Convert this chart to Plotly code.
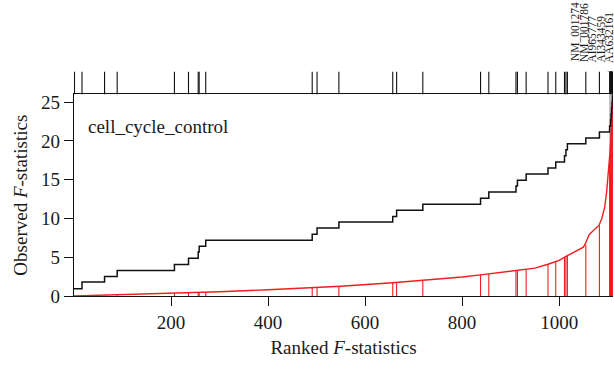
import plotly.graph_objects as go

# ---------------- data ----------------
# ranks (x) of the gene-set members
member_ranks = [1, 16.5, 63, 89, 207, 236, 256, 258, 271.5, 491, 501, 546,
                657, 665, 719, 838, 855, 911, 914, 932, 977, 993, 1011, 1014,
                1017, 1055, 1083, 1104, 1106, 1107, 1108, 1109, 1110, 1111]
# observed (black step) value after each member
observed_steps = [0.94, 1.79, 2.52, 3.29, 4.06, 4.87, 5.68, 6.40, 7.18, 7.95,
                  8.76, 9.53, 10.26, 11.06, 11.83, 12.60, 13.42, 14.19, 14.92,
                  15.73, 16.50, 17.27, 18.08, 18.85, 19.62, 20.38, 21.15, 21.92,
                  22.69, 23.46, 24.23, 25.00, 25.77, 26.54]
# expected F-statistic (red curve) at each member rank
expected_at_members = [0.0, 0.03, 0.10, 0.15, 0.36, 0.42, 0.45, 0.46, 0.50,
                       1.10, 1.13, 1.26, 1.71, 1.74, 2.00, 2.73, 2.85, 3.25,
                       3.28, 3.45, 4.10, 4.40, 5.00, 5.10, 5.20, 6.60, 9.10,
                       17.2, 20.0, 21.0, 22.0, 23.2, 24.5, 26.0]
# red curve: ranked F-statistics of all genes
curve_rank = [0, 50, 100, 200, 300, 400, 466, 550, 657, 719, 800, 838, 911,
              950, 977, 1000, 1017, 1040, 1050, 1055, 1062, 1070, 1082, 1088,
              1094, 1098, 1102, 1105, 1108, 1111]
curve_value = [0.0, 0.08, 0.17, 0.34, 0.55, 0.80, 0.98, 1.25, 1.71, 2.00,
               2.45, 2.73, 3.25, 3.60, 4.10, 4.60, 5.20, 5.90, 6.30, 6.90,
               7.90, 8.40, 9.10, 10.0, 11.5, 13.5, 16.0, 18.7, 22.0, 26.5]
# labelled top genes (rank, name)
top_gene_ranks = [1107, 1108, 1109, 1110, 1111]
top_gene_names = ["NM_001274", "NM_001786", "AI965777", "AI343459", "AA632161"]
set_name = "cell_cycle_control"
x_ticks = [200, 400, 600, 800, 1000]
y_ticks = [0, 5, 10, 15, 20, 25]
sig_band = [1103, 1111]

FONT = "Liberation Serif"
TXT = "#1a1a1a"
RED = "#f01e1e"

fig = go.Figure()

# red vertical lines from members down to axis
vx, vy = [], []
for r, v in zip(member_ranks, expected_at_members):
    vx += [r, r, None]
    vy += [0, v, None]
fig.add_trace(go.Scatter(x=vx, y=vy, mode="lines",
                         line=dict(color=RED, width=1.1),
                         hoverinfo="skip", showlegend=False))

# red curve
fig.add_trace(go.Scatter(x=curve_rank, y=curve_value, mode="lines",
                         line=dict(color=RED, width=1.4),
                         showlegend=False))

# black step line
fig.add_trace(go.Scatter(x=[0] + member_ranks[1:],
                         y=observed_steps, mode="lines",
                         line=dict(color="#111111", width=1.5, shape="hv"),
                         showlegend=False))

# rug on top
rx, ry = [], []
for r in member_ranks:
    rx += [r, r, None]
    ry += [0, 1, None]
fig.add_trace(go.Scatter(x=rx, y=ry, mode="lines", xaxis="x", yaxis="y2",
                         line=dict(color="#111111", width=1.1),
                         hoverinfo="skip", showlegend=False))

H_PLOT = 294.0
dom_top = 203 / H_PLOT
rug_top = 226 / H_PLOT

shapes = [dict(type="rect", xref="x", yref="y domain",
               x0=sig_band[0], x1=sig_band[1], y0=0, y1=1,
               fillcolor="#bcbcbc", line=dict(width=0), layer="below")]

annotations = [dict(text=set_name, xref="x domain", yref="y domain",
                    x=0.022, y=0.84, xanchor="left", yanchor="middle",
                    showarrow=False, font=dict(family=FONT, size=19, color=TXT))]

label_dx = [-36, -28, -19.5, -11.5, -4]
label_dy = [8, 7.5, 7, 6.5, 6]
for r, name, dx, dy in zip(top_gene_ranks, top_gene_names, label_dx, label_dy):
    shapes.append(dict(type="line", xref="x", yref="y2",
                       xsizemode="pixel", ysizemode="pixel",
                       xanchor=r, yanchor=1,
                       x0=0, y0=0, x1=dx, y1=dy,
                       line=dict(color="#111111", width=1)))
    annotations.append(dict(text=name, xref="x", yref="y2", x=r, y=1,
                            xshift=dx, yshift=dy, textangle=-90,
                            xanchor="center", yanchor="bottom",
                            showarrow=False,
                            font=dict(family=FONT, size=11.5, color=TXT)))

fig.update_layout(
    width=614, height=368,
    margin=dict(l=74, r=1, t=2, b=72),
    paper_bgcolor="white", plot_bgcolor="white",
    font=dict(family=FONT, size=19, color=TXT),
    shapes=shapes, annotations=annotations,
    xaxis=dict(range=[0, 1111], domain=[0, 1], anchor="y",
               tickvals=x_ticks, ticks="outside", ticklen=9, tickwidth=1.3,
               tickcolor="#111111", showline=True, linecolor="#111111",
               linewidth=1.3, mirror=True, showgrid=False, zeroline=False,
               tickfont=dict(family=FONT, size=19, color=TXT),
               title=dict(text="Ranked <i>F</i>-statistics", standoff=8,
                          font=dict(family=FONT, size=19, color=TXT))),
    yaxis=dict(range=[0, 26], domain=[0, dom_top], anchor="x",
               tickvals=y_ticks, ticks="outside", ticklen=9, tickwidth=1.3,
               tickcolor="#111111", showline=True, linecolor="#111111",
               linewidth=1.3, showgrid=False, zeroline=False,
               tickfont=dict(family=FONT, size=19, color=TXT),
               title=dict(text="Observed <i>F</i>-statistics", standoff=8,
                          font=dict(family=FONT, size=19, color=TXT))),
    yaxis2=dict(range=[0, 1], domain=[dom_top, rug_top], anchor="x",
                visible=False, fixedrange=True),
)

fig.write_html("out.html")
